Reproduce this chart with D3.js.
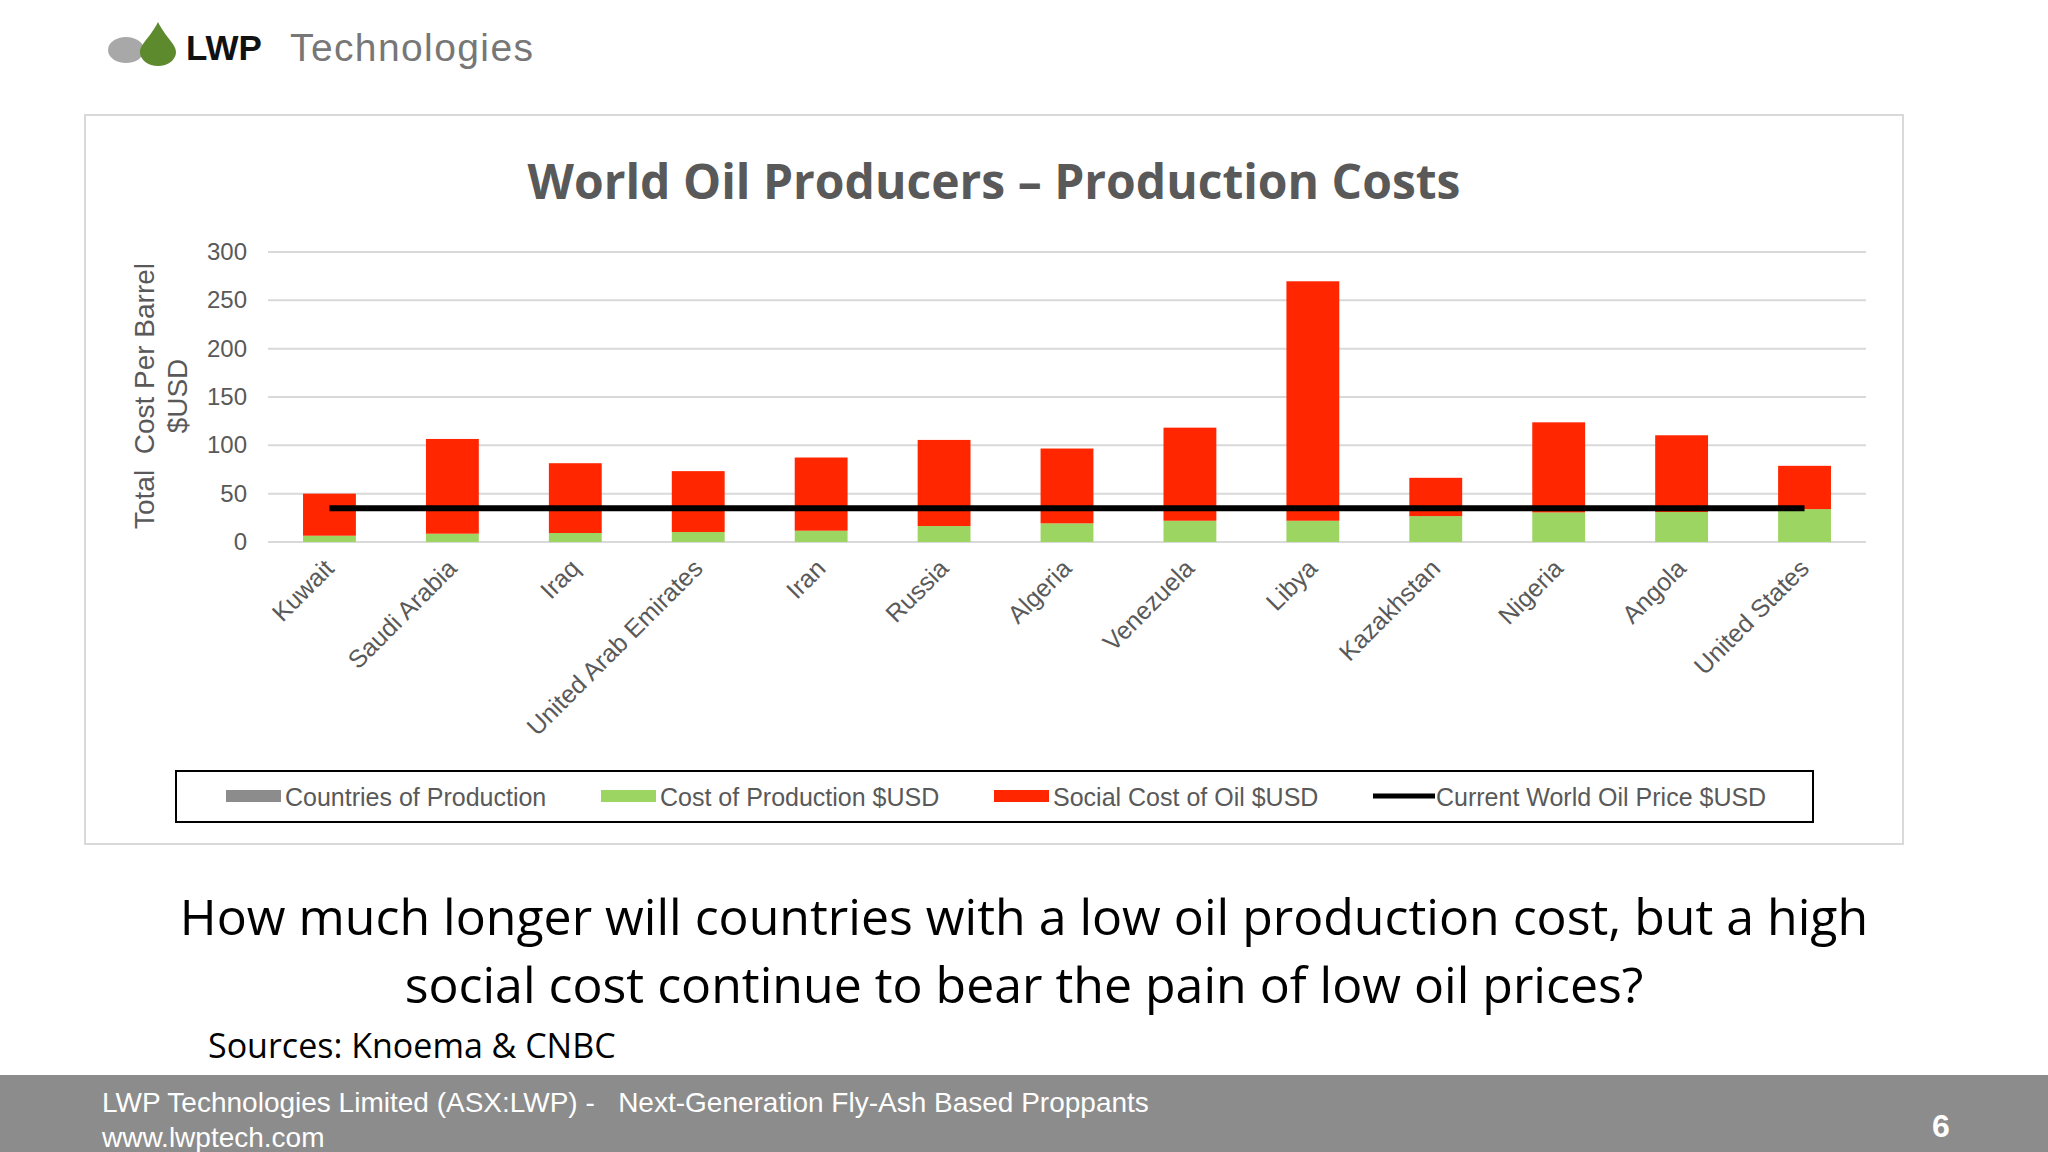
<!DOCTYPE html>
<html><head><meta charset="utf-8">
<script src="https://cdn.jsdelivr.net/npm/d3@7"></script>
<style>body{margin:0;background:#fff;}svg{display:block;}text{white-space:pre;}</style>
</head><body>
<svg id="c" width="2048" height="1152"></svg>
<script>
const countries = ["Kuwait","Saudi Arabia","Iraq","United Arab Emirates","Iran","Russia","Algeria","Venezuela","Libya","Kazakhstan","Nigeria","Angola","United States"];
const productionCost = [6.5, 8.6, 9.3, 10.3, 11.7, 16.5, 19.3, 22, 22, 26.8, 30.6, 31, 34];
const totalCost = [50, 106.6, 81.5, 73.3, 87.4, 105.6, 96.7, 118.3, 269.7, 66.4, 123.8, 110.4, 78.8];
const worldOilPrice = countries.map(() => 35);
const yTicks = [0, 50, 100, 150, 200, 250, 300];

const svg = d3.select("#c");
const F = "Liberation Sans, Arial, sans-serif";
const C = "Open Sans, Noto Sans, sans-serif";

// logo
const lg = svg.append("g");
lg.append("ellipse").attr("cx",126).attr("cy",50).attr("rx",18).attr("ry",13).attr("fill","#a8a8a8");
lg.append("path").attr("d","M158,22 C150,38 140,44 140,52 A18,14 0 0 0 176,52 C176,44 166,38 158,22Z").attr("fill","#5e8a2e");
lg.append("text").attr("x",186).attr("y",60).attr("font-family",F).attr("font-weight","bold").attr("font-size",35).attr("fill","#111").text("LWP");
lg.append("text").attr("x",290).attr("y",61).attr("font-family",F).attr("font-size",39).attr("fill","#777").attr("textLength",243).text("Technologies");

// chart box
svg.append("rect").attr("x",85).attr("y",115).attr("width",1818).attr("height",729).attr("fill","#fff").attr("stroke","#d9d9d9").attr("stroke-width",2);
svg.append("text").attr("x",994).attr("y",199).attr("text-anchor","middle").attr("font-family",C).attr("font-weight","bold").attr("font-size",48).attr("fill","#595959").text("World Oil Producers – Production Costs");

const x = d3.scaleBand().domain(countries).range([268,1866]).paddingInner(0.57).paddingOuter(0.285);
const y = d3.scaleLinear().domain([0,300]).range([542,252]);

const grid = svg.append("g");
yTicks.forEach(t => {
  grid.append("line").attr("x1",268).attr("x2",1866).attr("y1",y(t)).attr("y2",y(t)).attr("stroke","#d9d9d9").attr("stroke-width",2);
  grid.append("text").attr("x",247).attr("y",y(t)+8).attr("text-anchor","end").attr("font-family",F).attr("font-size",24).attr("fill","#595959").text(t);
});

svg.selectAll(".g").data(countries).join("rect").attr("x",d=>x(d)).attr("width",x.bandwidth())
  .attr("y",(d,i)=>y(productionCost[i])).attr("height",(d,i)=>y(0)-y(productionCost[i])).attr("fill","#9dd563");
svg.selectAll(".r").data(countries).join("rect").attr("x",d=>x(d)).attr("width",x.bandwidth())
  .attr("y",(d,i)=>y(totalCost[i])).attr("height",(d,i)=>y(productionCost[i])-y(totalCost[i])).attr("fill","#ff2600");

const line = d3.line().x(d=>x(d[0])+x.bandwidth()/2).y(d=>y(d[1]));
svg.append("path").attr("d",line(countries.map((c,i)=>[c,worldOilPrice[i]]))).attr("stroke","#000").attr("stroke-width",6).attr("fill","none");

countries.forEach(c => {
  svg.append("text").attr("transform",`translate(${x(c)+x.bandwidth()/2+6},${570}) rotate(-45)`)
    .attr("text-anchor","end").attr("font-family",F).attr("font-size",25).attr("fill","#595959").text(c);
});

const yt = svg.append("text").attr("transform","translate(154,396) rotate(-90)").attr("text-anchor","middle").attr("font-family",F).attr("font-size",28).attr("fill","#595959");
yt.append("tspan").attr("x",0).attr("dy",0).text("Total  Cost Per Barrel");
yt.append("tspan").attr("x",0).attr("dy",33).text("$USD");

// legend
svg.append("rect").attr("x",176).attr("y",771).attr("width",1637).attr("height",51).attr("fill","none").attr("stroke","#000").attr("stroke-width",2);
const leg = [["Countries of Production","#8c8c8c","rect",226],["Cost of Production $USD","#9dd563","rect",601],["Social Cost of Oil $USD","#ff2600","rect",994],["Current World Oil Price $USD","#000","line",1373]];
leg.forEach(([t,col,k,lx])=>{
  if(k==="rect") svg.append("rect").attr("x",lx).attr("y",790).attr("width",55).attr("height",12).attr("fill",col);
  else svg.append("line").attr("x1",lx).attr("x2",lx+62).attr("y1",796).attr("y2",796).attr("stroke",col).attr("stroke-width",5);
  svg.append("text").attr("x",lx+(k==="rect"?59:63)).attr("y",806).attr("font-family",F).attr("font-size",25).attr("fill","#595959").text(t);
});

svg.append("text").attr("x",1024).attr("y",935).attr("text-anchor","middle").attr("font-family",C).attr("font-size",50).attr("fill","#000").text("How much longer will countries with a low oil production cost, but a high");
svg.append("text").attr("x",1024).attr("y",1003).attr("text-anchor","middle").attr("font-family",C).attr("font-size",50).attr("fill","#000").text("social cost continue to bear the pain of low oil prices?");
svg.append("text").attr("x",208).attr("y",1058).attr("font-family",C).attr("font-size",34).attr("fill","#000").text("Sources: Knoema & CNBC");

svg.append("rect").attr("x",0).attr("y",1075).attr("width",2048).attr("height",77).attr("fill","#8c8c8c");
svg.append("text").attr("x",102).attr("y",1112).attr("font-family",F).attr("font-size",28).attr("fill","#fff").text("LWP Technologies Limited (ASX:LWP) -   Next-Generation Fly-Ash Based Proppants");
svg.append("text").attr("x",102).attr("y",1147).attr("font-family",F).attr("font-size",28).attr("fill","#fff").text("www.lwptech.com");
svg.append("text").attr("x",1941).attr("y",1137).attr("text-anchor","middle").attr("font-family",F).attr("font-weight","bold").attr("font-size",32).attr("fill","#fff").text("6");
</script>
</body></html>
